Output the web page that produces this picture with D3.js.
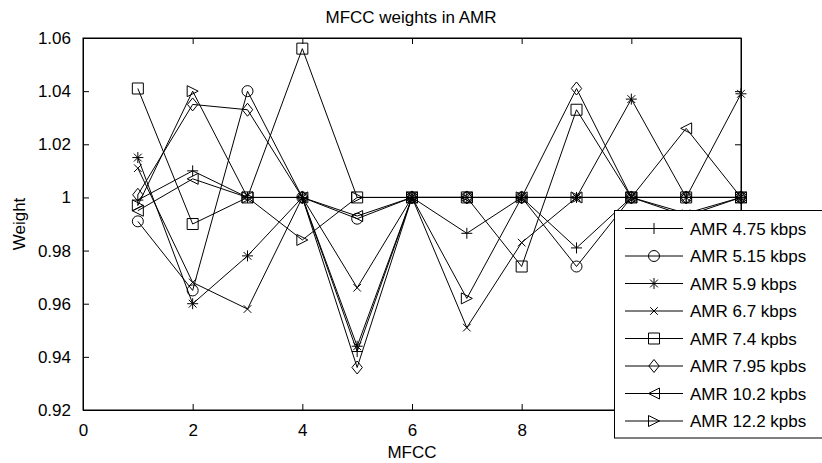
<!DOCTYPE html>
<html><head><meta charset="utf-8">
<script src="https://cdn.jsdelivr.net/npm/d3@7/dist/d3.min.js"></script>
<style>
html,body{margin:0;padding:0;background:#fff;}
svg{display:block;}
text{font-family:"Liberation Sans",Arial,Helvetica,sans-serif;fill:#000;}
</style></head>
<body>
<svg id="chart" width="822" height="463"></svg>
<script>
// ---- data ----
const mfcc = [1,2,3,4,5,6,7,8,9,10,11,12];
const seriesNames = ["AMR 4.75 kbps","AMR 5.15 kbps","AMR 5.9 kbps","AMR 6.7 kbps","AMR 7.4 kpbs","AMR 7.95 kpbs","AMR 10.2 kpbs","AMR 12.2 kpbs"];
const seriesMarkers = ["plus","circle","star","x","square","diamond","triLeft","triRight"];
const amr475 = [0.999, 1.010, 1.000, 1.000, 0.942, 1.000, 0.9865, 1.000, 0.981, 1.000, 1.000, 1.000];
const amr515 = [0.991, 0.965, 1.040, 1.000, 0.992, 1.000, 1.000, 1.000, 0.974, 1.000, 1.000, 1.000];
const amr59  = [1.015, 0.960, 0.978, 1.000, 0.944, 1.000, 1.000, 1.000, 1.000, 1.037, 1.000, 1.039];
const amr67  = [1.011, 0.968, 0.958, 1.000, 0.966, 1.000, 0.951, 0.983, 1.000, 1.000, 0.994, 1.000];
const amr74  = [1.041, 0.990, 1.000, 1.056, 1.000, 1.000, 1.000, 0.974, 1.033, 1.000, 1.000, 1.000];
const amr795 = [1.001, 1.035, 1.033, 1.000, 0.936, 1.000, 1.000, 1.000, 1.041, 1.000, 1.000, 1.000];
const amr102 = [0.995, 1.007, 1.000, 1.000, 0.993, 1.000, 1.000, 1.000, 1.000, 1.000, 1.026, 1.000];
const amr122 = [0.997, 1.040, 1.000, 0.984, 1.000, 1.000, 0.962, 1.000, 1.000, 1.000, 0.993, 1.000];
const seriesValues = [amr475, amr515, amr59, amr67, amr74, amr795, amr102, amr122];
const xTickValues = [0,2,4,6,8,10,12];
const xTickLabels = ["0","2","4","6","8","10","12"];
const yTickValues = [0.92,0.94,0.96,0.98,1.00,1.02,1.04,1.06];
const yTickLabels = ["0.92","0.94","0.96","0.98","1","1.02","1.04","1.06"];
const titleText = "MFCC weights in AMR";
const xLabelText = "MFCC";
const yLabelText = "Weight";

// ---- layout ----
const L = 83, R = 741, T = 38, B = 410;
const FS = 17;
const LEG_X = 614.5, LEG_Y = 210.5, LEG_H = 227.5;
const svg = d3.select("#chart");
svg.append("rect").attr("width",822).attr("height",463).attr("fill","#fff");

const x = d3.scaleLinear().domain([0,12]).range([L,R]);
const y = d3.scaleLinear().domain([0.92,1.06]).range([B,T]);

// marker path generator
function markerPath(type){
  const r = 5.5;
  switch(type){
    case "plus": return `M${-r},0H${r}M0,${-r}V${r}`;
    case "x": { const a = 3.8; return `M${-a},${-a}L${a},${a}M${-a},${a}L${a},${-a}`; }
    case "star": { const a = 3.9; return `M${-r},0H${r}M0,${-r}V${r}M${-a},${-a}L${a},${a}M${-a},${a}L${a},${-a}`; }
    case "square": return `M${-r},${-r}H${r}V${r}H${-r}Z`;
    case "diamond": return `M0,${-6.5}L5.2,0L0,6.5L-5.2,0Z`;
    case "triLeft": return `M${-r},0L${r},${-r}L${r},${r}Z`;
    case "triRight": return `M${r},0L${-r},${-r}L${-r},${r}Z`;
    case "circle": return d3.symbol(d3.symbolCircle, Math.PI*r*r)();
  }
}

// frame
svg.append("rect").attr("x",L).attr("y",T).attr("width",R-L).attr("height",B-T)
  .attr("fill","none").attr("stroke","#000").attr("stroke-width",1);

// x labels that sit under the legend box are covered in the reference, so they are not drawn
const xLabelFor = (d,i) => (x(d) > LEG_X ? "" : xTickLabels[i]);

const gx = svg.append("g").attr("transform",`translate(0,${B})`)
  .call(d3.axisBottom(x).tickValues(xTickValues).tickFormat(xLabelFor).tickSizeInner(-6).tickSizeOuter(0).tickPadding(14));
const gxTop = svg.append("g").attr("transform",`translate(0,${T})`)
  .call(d3.axisTop(x).tickValues(xTickValues).tickFormat("").tickSizeInner(-6).tickSizeOuter(0));
const gy = svg.append("g").attr("transform",`translate(${L},0)`)
  .call(d3.axisLeft(y).tickValues(yTickValues).tickFormat((d,i)=>yTickLabels[i]).tickSizeInner(-6).tickSizeOuter(0).tickPadding(12));
const gyR = svg.append("g").attr("transform",`translate(${R},0)`)
  .call(d3.axisRight(y).tickValues(yTickValues).tickFormat("").tickSizeInner(-6).tickSizeOuter(0));
[gx,gxTop,gy,gyR].forEach(g=>{
  g.select(".domain").attr("stroke","#000");
  g.selectAll(".tick line").attr("stroke","#000");
  g.selectAll("text").attr("font-size",FS).attr("font-family","Liberation Sans, Arial, sans-serif").attr("fill","#000");
});
gx.selectAll(".tick text").filter(function(){ return this.textContent === ""; }).remove();

// series
const line = d3.line().x((d,i)=>x(mfcc[i])).y(d=>y(d));
const plot = svg.append("g");
seriesValues.forEach((vals,si)=>{
  plot.append("path").attr("d",line(vals)).attr("fill","none").attr("stroke","#000").attr("stroke-width",1);
  plot.selectAll(null).data(vals).enter().append("path")
    .attr("transform",(d,i)=>`translate(${x(mfcc[i])},${y(d)})`)
    .attr("d",markerPath(seriesMarkers[si]))
    .attr("fill","none").attr("stroke","#000").attr("stroke-width",1);
});

// labels
svg.append("text").attr("x",411).attr("y",23).attr("text-anchor","middle").attr("font-size",FS).text(titleText);
svg.append("text").attr("x",(L+R)/2).attr("y",458).attr("text-anchor","middle").attr("font-size",FS).text(xLabelText);
svg.append("text").attr("transform",`translate(25,${(T+B)/2}) rotate(-90)`).attr("text-anchor","middle").attr("font-size",FS).text(yLabelText);

// legend
const lg = svg.append("g");
lg.append("rect").attr("x",LEG_X).attr("y",LEG_Y).attr("width",220).attr("height",LEG_H)
  .attr("fill","#fff").attr("stroke","#000").attr("stroke-width",1);
seriesNames.forEach((name,i)=>{
  const ly = 228.5 + i*27.5;
  lg.append("line").attr("x1",625).attr("x2",683).attr("y1",ly).attr("y2",ly).attr("stroke","#000");
  lg.append("path").attr("transform",`translate(654,${ly})`).attr("d",markerPath(seriesMarkers[i]))
    .attr("fill","none").attr("stroke","#000");
  lg.append("text").attr("x",690).attr("y",ly+6).attr("font-size",FS).text(name);
});
</script>
</body></html>
